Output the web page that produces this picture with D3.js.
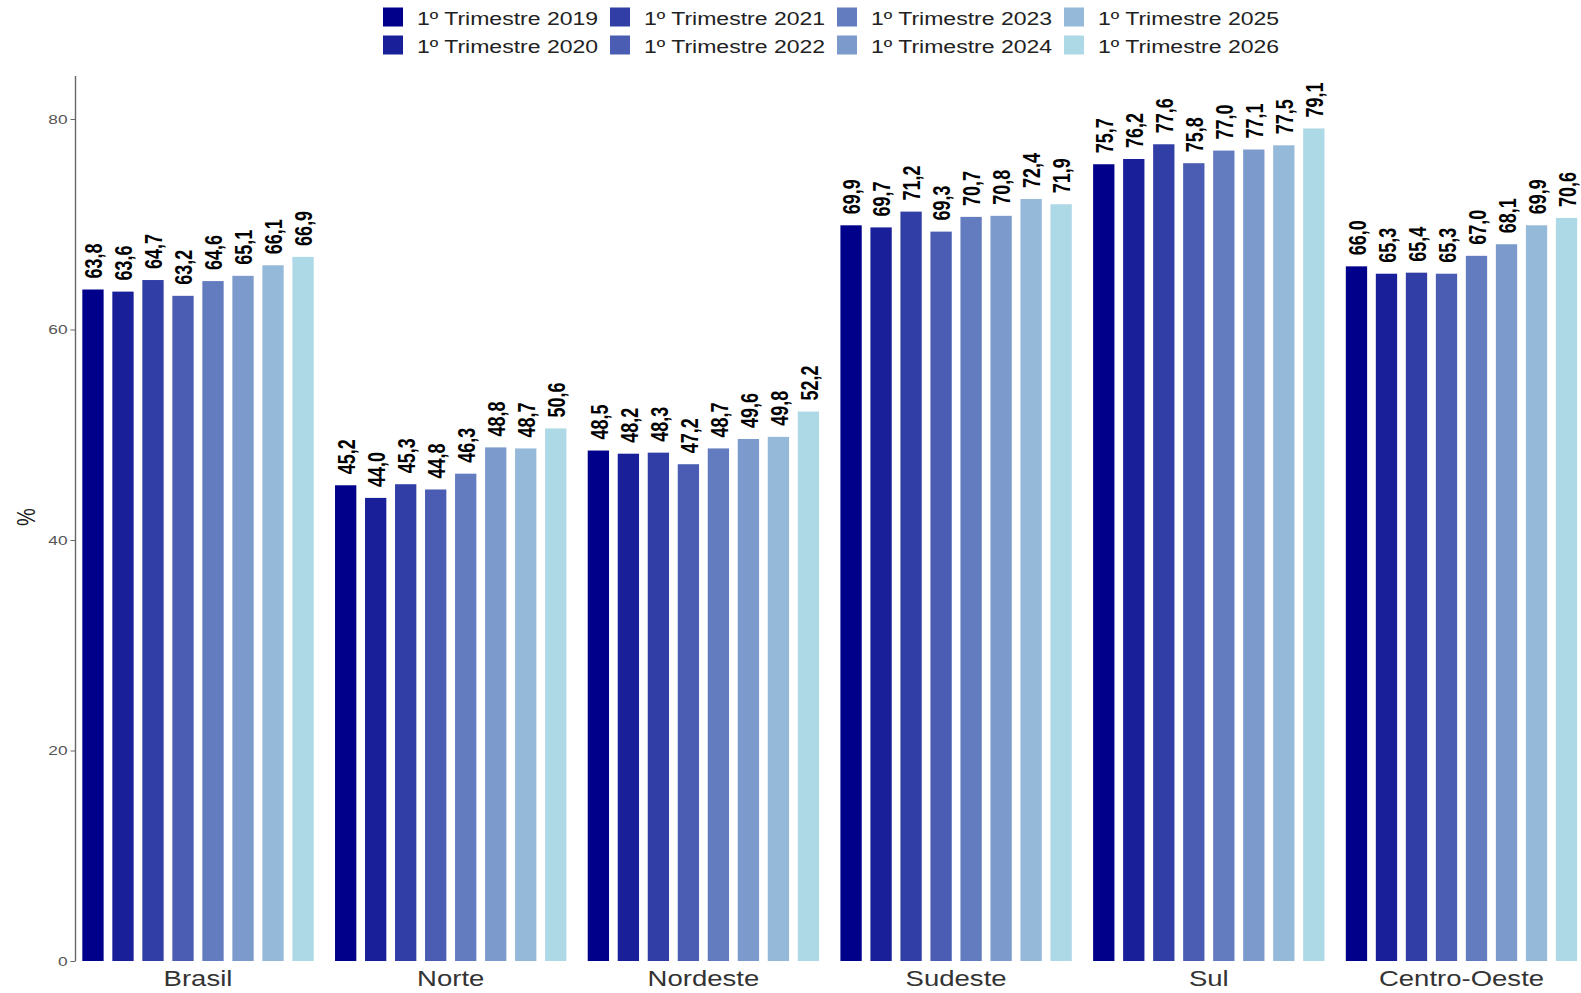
<!DOCTYPE html>
<html>
<head>
<meta charset="utf-8">
<script src="https://cdn.jsdelivr.net/npm/d3@7"></script>
<style>
  html, body { margin: 0; padding: 0; background: #ffffff; }
  svg { display: block; font-family: "Liberation Sans", Arial, sans-serif; }
</style>
</head>
<body>
<svg id="chart" width="1581" height="993"></svg>
<script>
// Regions shown on the x axis
const regions = ["Brasil", "Norte", "Nordeste", "Sudeste", "Sul", "Centro-Oeste"];
// Series (one per first quarter)
const periods = ["1º Trimestre 2019", "1º Trimestre 2020", "1º Trimestre 2021", "1º Trimestre 2022",
                 "1º Trimestre 2023", "1º Trimestre 2024", "1º Trimestre 2025", "1º Trimestre 2026"];
// Values per region, in the order of periods
const brasil      = [63.8, 63.6, 64.7, 63.2, 64.6, 65.1, 66.1, 66.9];
const norte       = [45.2, 44.0, 45.3, 44.8, 46.3, 48.8, 48.7, 50.6];
const nordeste    = [48.5, 48.2, 48.3, 47.2, 48.7, 49.6, 49.8, 52.2];
const sudeste     = [69.9, 69.7, 71.2, 69.3, 70.7, 70.8, 72.4, 71.9];
const sul         = [75.7, 76.2, 77.6, 75.8, 77.0, 77.1, 77.5, 79.1];
const centroOeste = [66.0, 65.3, 65.4, 65.3, 67.0, 68.1, 69.9, 70.6];
// Y axis ticks
const yTicks = [0, 20, 40, 60, 80];

const valuesByRegion = [brasil, norte, nordeste, sudeste, sul, centroOeste];
const data = [];
regions.forEach((r, i) => periods.forEach((p, j) => data.push({ region: r, period: p, value: valuesByRegion[i][j] })));

const svg = d3.select("#chart");

// Text in this chart is drawn slightly wide
const SX = 1.28;

const plot = { left: 75.5, top: 76, bottom: 961 };

const step = 252.7;
const x = d3.scaleBand().domain(regions).range([198 - step / 2, 198 - step / 2 + step * regions.length]).paddingInner(0).paddingOuter(0);
const groupWidth = x.bandwidth() * 0.95;
const xInner = d3.scaleBand().domain(periods).range([0, groupWidth]);
const barWidth = xInner.bandwidth() * 0.71;

const y = d3.scaleLinear().domain([0, 80]).range([plot.bottom, 119]);

const color = d3.scaleOrdinal()
  .domain(periods)
  .range(d3.range(8).map(i => d3.interpolateRgb("#00008B", "#ADD8E6")(i / 7)));

const fmt = v => v.toFixed(1).replace(".", ",");

// Bars
const barX = d => x(d.region) + (x.bandwidth() - groupWidth) / 2 + xInner(d.period) + (xInner.bandwidth() - barWidth) / 2;

svg.append("g")
  .selectAll("rect")
  .data(data)
  .join("rect")
  .attr("x", barX)
  .attr("width", barWidth)
  .attr("y", d => y(d.value))
  .attr("height", d => y(0) - y(d.value))
  .attr("fill", d => color(d.period));

// Value labels, rotated, centred on each bar
svg.append("g")
  .selectAll("text")
  .data(data)
  .join("text")
  .attr("transform", d => `translate(${barX(d) + barWidth / 2 + 1},${y(d.value) - 11}) scale(${SX},1) rotate(-90)`)
  .attr("text-anchor", "start")
  .attr("dy", "0.36em")
  .attr("font-size", 18)
  .attr("font-weight", "bold")
  .attr("fill", "#000")
  .text(d => fmt(d.value));

// Y axis
const yAxis = d3.axisLeft(y).tickValues(yTicks).tickSize(5).tickPadding(4);
const gy = svg.append("g").attr("transform", `translate(${plot.left},0)`).call(yAxis);
gy.select(".domain").attr("d", `M0,${plot.top}V${plot.bottom}`).attr("stroke", "#666").attr("stroke-width", 1.4);
gy.selectAll(".tick line").attr("stroke", "#666");
gy.selectAll(".tick text")
  .attr("font-size", 13.5)
  .attr("fill", "#555")
  .attr("font-family", "Liberation Sans, Arial, sans-serif")
  .attr("x", null)
  .attr("transform", `translate(-8,0) scale(${SX},1)`);

// X axis labels (no axis line)
const xAxis = d3.axisBottom(x).tickSize(0).tickPadding(0);
const gx = svg.append("g").attr("transform", `translate(0,${plot.bottom})`).call(xAxis);
gx.select(".domain").remove();
gx.selectAll(".tick text")
  .attr("font-size", 21.5)
  .attr("fill", "#333")
  .attr("font-family", "Liberation Sans, Arial, sans-serif")
  .attr("y", null).attr("dy", null)
  .attr("transform", `translate(0,25) scale(${SX},1)`);

// Y title
svg.append("text")
  .attr("transform", `translate(26,517) scale(${SX},1) rotate(-90)`)
  .attr("text-anchor", "middle")
  .attr("dy", "0.36em")
  .attr("font-size", 20)
  .attr("fill", "#1a1a1a")
  .text("%");

// Legend: 4 columns x 2 rows, filled column-wise
const legend = svg.append("g");
periods.forEach((p, i) => {
  const col = Math.floor(i / 2), row = i % 2;
  const lx = 383 + col * 227, ly = 7.5 + row * 28;
  legend.append("rect").attr("x", lx).attr("y", ly).attr("width", 20).attr("height", 19).attr("fill", color(p));
  legend.append("text")
    .attr("transform", `translate(${lx + 34},${ly + 17.5}) scale(${SX},1)`)
    .attr("font-size", 18)
    .attr("fill", "#222")
    .text(p);
});
</script>
</body>
</html>
